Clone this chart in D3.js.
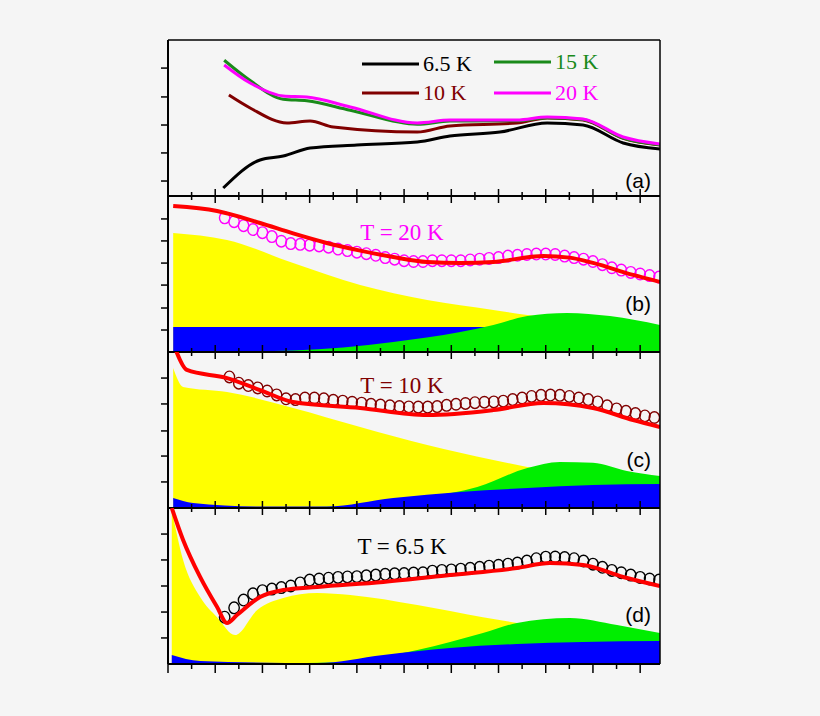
<!DOCTYPE html>
<html><head><meta charset="utf-8">
<script src="https://cdn.jsdelivr.net/npm/d3@7"></script>
<style>body{margin:0;background:#f5f5f5}</style>
</head><body>
<script>
// x in major-tick units, y in arbitrary panel units (0..10)
const xMajor = d3.range(0, 11);
const xMinor = d3.range(0.5, 10.5, 1);

// panel (a)
const aX = [1.17, 1.95, 2.44, 3.01, 4.0, 5.28, 5.97, 7.03, 8.03, 8.79, 9.64, 10.42];
const a65 = [0.51, 2.31, 2.56, 3.08, 3.27, 3.46, 3.85, 4.1, 4.68, 4.55, 3.40, 3.01];
const aXm = [1.19, 1.74, 2.44, 2.94, 3.86, 5.28, 5.97, 7.39, 8.03, 8.79, 9.64, 10.42];
const a20 = [8.4, 7.24, 6.41, 6.35, 5.71, 4.68, 4.87, 4.87, 5.06, 4.94, 3.78, 3.33];
const a15 = [8.7, 7.4, 6.2, 6.1, 5.5, 4.6, 4.8, 4.82, 5.02, 4.9, 3.72, 3.28];
const aXr = [1.29, 1.74, 2.52, 3.01, 3.5, 5.28, 5.97, 7.39, 8.03, 8.79, 9.64, 10.42];
const a10 = [6.47, 5.64, 4.68, 4.81, 4.42, 4.1, 4.49, 4.68, 5.0, 4.87, 3.7, 3.27];
const aTicks = [0.96, 2.76, 4.55, 6.35, 8.2];

// panel (b) T = 20 K
const bYelX = [0.11, 1.25, 2.65, 4.07, 5.49, 6.89, 7.61, 9.0, 10.42];
const bYel = [7.63, 7.18, 5.7, 4.29, 3.33, 2.69, 2.37, 1.9, 1.5];
const bBluX = [0.11, 10.42];
const bBlu = [1.6, 1.6];
const bGrnX = [0.11, 2.65, 4.77, 6.19, 6.89, 7.61, 8.45, 9.36, 10.42];
const bGrn = [0.0, 0.1, 0.64, 1.28, 1.73, 2.31, 2.5, 2.3, 1.73];
const bFitX = [0.11, 1.04, 1.95, 2.65, 3.36, 4.07, 4.77, 5.49, 6.19, 6.89, 7.95, 8.5, 9.0, 9.85, 10.42];
const bFit = [9.36, 9.04, 8.27, 7.6, 6.99, 6.5, 6.09, 5.77, 5.7, 5.77, 6.15, 6.05, 5.71, 4.94, 4.49];
const bObsX0 = 1.2;
const bObs = [8.6, 8.35, 8.1, 7.85, 7.65, 7.4, 7.1, 6.95, 6.9, 6.85, 6.8, 6.72, 6.6, 6.5, 6.4, 6.3, 6.2, 6.05, 5.95, 5.85,
  5.8, 5.8, 5.85, 5.85, 5.85, 5.85, 5.9, 5.95, 6.0, 6.05, 6.15, 6.2, 6.25, 6.28, 6.28, 6.25, 6.15, 6.05, 5.95, 5.8,
  5.6, 5.4, 5.25, 5.1, 5.0, 4.9, 4.8];
const bTicks = [1.41, 2.82, 4.29, 5.7, 7.12, 8.53];

// panel (c) T = 10 K
const cYelX = [0.11, 0.32, 1.25, 2.65, 4.07, 5.49, 6.89, 7.61, 9.0, 10.42];
const cYel = [8.97, 7.76, 7.44, 6.41, 5.19, 4.04, 3.08, 2.63, 2.0, 1.5];
const cGrnX = [0.11, 3.5, 5.49, 6.55, 7.61, 8.3, 9.0, 9.72, 10.42];
const cGrn = [0.0, 0.08, 0.7, 1.35, 2.56, 2.95, 2.9, 2.37, 2.05];
const cBluX = [0.11, 0.53, 1.95, 3.36, 4.77, 6.19, 7.61, 9.0, 10.42];
const cBlu = [0.64, 0.32, 0.1, 0.1, 0.64, 1.03, 1.28, 1.47, 1.54];
const cFitX = [0.02, 0.19, 0.4, 1.25, 1.95, 2.65, 4.07, 5.49, 6.89, 7.95, 9.0, 9.85, 10.42];
const cFit = [11.5, 9.94, 8.85, 8.33, 7.56, 6.79, 6.41, 5.96, 6.28, 6.73, 6.41, 5.64, 5.19];
const cObsX0 = 1.3;
const cObs = [8.4, 8.0, 7.85, 7.7, 7.5, 7.25, 7.0, 6.95, 7.05, 7.05, 7.0, 6.9, 6.85, 6.78, 6.72, 6.65, 6.6, 6.55, 6.5, 6.48,
  6.47, 6.47, 6.5, 6.58, 6.65, 6.7, 6.75, 6.78, 6.8, 6.85, 6.95, 7.05, 7.15, 7.22, 7.24, 7.22, 7.15, 7.05, 6.95, 6.8,
  6.55, 6.35, 6.2, 6.05, 5.9, 5.8];
const cTicks = [1.67, 3.33, 4.94, 6.67, 8.33];

// panel (d) T = 6.5 K
const dYelX = [0.08, 0.32, 0.68, 1.04, 1.42, 1.89, 2.44, 3.16, 3.86, 5.28, 6.67, 7.39, 8.79, 10.42];
const dYel = [9.87, 6.67, 4.3, 3.0, 1.86, 3.46, 4.23, 4.55, 4.42, 3.78, 3.0, 2.63, 1.8, 1.3];
const dGrnX = [0.08, 3.5, 5.28, 6.67, 7.39, 8.51, 9.51, 10.42];
const dGrn = [0.0, 0.1, 0.9, 1.98, 2.63, 2.95, 2.5, 1.98];
const dBluX = [0.08, 0.68, 3.16, 4.56, 5.97, 7.39, 8.79, 10.42];
const dBlu = [0.58, 0.2, 0.06, 0.58, 1.03, 1.28, 1.41, 1.47];
const dFitX = [0.08, 0.32, 0.68, 1.04, 1.25, 1.46, 1.95, 2.44, 3.16, 4.56, 5.97, 7.39, 8.09, 8.79, 9.64, 10.42];
const dFit = [10.0, 7.95, 5.58, 3.65, 2.63, 3.14, 4.3, 4.74, 4.94, 5.26, 5.7, 6.15, 6.47, 6.35, 5.58, 5.0];
const dObsX0 = 1.2;
const dObs = [3.0, 3.6, 4.1, 4.5, 4.7, 4.8, 4.9, 5.0, 5.2, 5.38, 5.45, 5.5, 5.55, 5.58, 5.6, 5.65, 5.7, 5.75, 5.78, 5.8,
  5.83, 5.85, 5.95, 6.0, 6.03, 6.08, 6.13, 6.2, 6.27, 6.33, 6.4, 6.47, 6.6, 6.75, 6.85, 6.86, 6.82, 6.75, 6.6, 6.4,
  6.2, 6.0, 5.85, 5.7, 5.55, 5.45, 5.38];
const dTicks = [1.67, 3.33, 5.0, 6.67, 8.33];

const zip = (xs, ys) => xs.map((x, i) => [x, ys[i]]);
const obs = (x0, ys) => ys.map((y, i) => [x0 + i * 0.2, y]);

const W = 820, H = 716;
const left = 168, right = 660;
const x = d3.scaleLinear().domain([0, 10.42]).range([left, right]);

const svg = d3.select('body').append('svg').attr('width', W).attr('height', H)
  .style('background', '#f5f5f5');

const panels = [
  { id: 'a', top: 40, bottom: 196, ticks: aTicks, tag: '(a)', tagY: 188 },
  { id: 'b', top: 196, bottom: 352, ticks: bTicks, tag: '(b)', tagY: 311,
    areas: [['#ffff00', zip(bYelX, bYel)], ['#0000ff', zip(bBluX, bBlu)], ['#00ee00', zip(bGrnX, bGrn)]],
    fit: zip(bFitX, bFit), obs: obs(bObsX0, bObs), col: '#ff00ff', label: 'T = 20 K', labelY: 240 },
  { id: 'c', top: 352, bottom: 508, ticks: cTicks, tag: '(c)', tagY: 467,
    areas: [['#ffff00', zip(cYelX, cYel)], ['#00ee00', zip(cGrnX, cGrn)], ['#0000ff', zip(cBluX, cBlu)]],
    fit: zip(cFitX, cFit), obs: obs(cObsX0, cObs), col: '#800000', label: 'T = 10 K', labelY: 393 },
  { id: 'd', top: 508, bottom: 664, ticks: dTicks, tag: '(d)', tagY: 622,
    areas: [['#ffff00', zip(dYelX, dYel)], ['#00ee00', zip(dGrnX, dGrn)], ['#0000ff', zip(dBluX, dBlu)]],
    fit: zip(dFitX, dFit), obs: obs(dObsX0, dObs), col: '#000000', label: 'T = 6.5 K', labelY: 554 },
];

panels.forEach(p => {
  const y = d3.scaleLinear().domain([0, 10]).range([p.bottom, p.top]);
  svg.append('clipPath').attr('id', 'clip' + p.id).append('rect')
    .attr('x', left).attr('y', p.top).attr('width', right - left).attr('height', p.bottom - p.top);
  const g = svg.append('g').attr('clip-path', `url(#clip${p.id})`);
  const line = d3.line().x(d => x(d[0])).y(d => y(d[1])).curve(d3.curveMonotoneX);
  const area = d3.area().x(d => x(d[0])).y0(p.bottom).y1(d => y(d[1])).curve(d3.curveMonotoneX);

  if (p.areas) {
    p.areas.forEach(([c, pts]) => g.append('path').attr('d', area(pts)).attr('fill', c));
    g.selectAll('ellipse.o').data(p.obs).enter().append('ellipse')
      .attr('cx', d => x(d[0])).attr('cy', d => y(d[1])).attr('rx', 5.2).attr('ry', 5.8)
      .attr('fill', 'none').attr('stroke', p.col).attr('stroke-width', 1.4);
    g.append('path').attr('d', line(p.fit)).attr('fill', 'none')
      .attr('stroke', '#ff0000').attr('stroke-width', 4);
    svg.append('text').text(p.label).attr('x', 402).attr('y', p.labelY)
      .attr('text-anchor', 'middle').attr('font-family', 'Liberation Serif, serif')
      .attr('font-size', 23).attr('fill', p.col);
  } else {
    const curves = [
      ['#000000', zip(aX, a65)], ['#800000', zip(aXr, a10)],
      ['#1a8a1a', zip(aXm, a15)], ['#ff00ff', zip(aXm, a20)]];
    curves.forEach(([c, pts]) => g.append('path').attr('d', line(pts)).attr('fill', 'none')
      .attr('stroke', c).attr('stroke-width', 3));
    const leg = [['#000000', '6.5 K', 362, 64], ['#1a8a1a', '15 K', 494, 62],
                 ['#800000', '10 K', 362, 93], ['#ff00ff', '20 K', 494, 93]];
    leg.forEach(([c, t, lx, ly]) => {
      svg.append('line').attr('x1', lx).attr('x2', lx + 57).attr('y1', ly).attr('y2', ly)
        .attr('stroke', c).attr('stroke-width', 3);
      svg.append('text').text(t).attr('x', lx + 61).attr('y', ly + 7)
        .attr('font-family', 'Liberation Serif, serif').attr('font-size', 22).attr('fill', c);
    });
    svg.append('line').attr('x1', left).attr('x2', right).attr('y1', p.top).attr('y2', p.top)
      .attr('stroke', '#000').attr('stroke-width', 1.5);
  }

  // frame
  svg.append('line').attr('x1', left).attr('x2', left).attr('y1', p.top).attr('y2', p.bottom)
    .attr('stroke', '#000').attr('stroke-width', 2);
  svg.append('line').attr('x1', right).attr('x2', right).attr('y1', p.top).attr('y2', p.bottom)
    .attr('stroke', '#000').attr('stroke-width', 1.5);
  svg.append('line').attr('x1', left).attr('x2', right).attr('y1', p.bottom).attr('y2', p.bottom)
    .attr('stroke', '#000').attr('stroke-width', 2);

  // y ticks
  svg.append('g').selectAll('line').data(p.ticks).enter().append('line')
    .attr('x1', left - 7).attr('x2', left).attr('y1', d => y(d)).attr('y2', d => y(d))
    .attr('stroke', '#000').attr('stroke-width', 1.5);

  // x ticks on panel bottom
  const last = p.id === 'd';
  const tg = svg.append('g');
  tg.selectAll('line.M').data(xMajor).enter().append('line')
    .attr('x1', d => x(d)).attr('x2', d => x(d))
    .attr('y1', last ? p.bottom : p.bottom - 7).attr('y2', p.bottom + (last ? 9 : 7))
    .attr('stroke', '#000').attr('stroke-width', 1.5);
  tg.selectAll('line.m').data(xMinor).enter().append('line')
    .attr('x1', d => x(d)).attr('x2', d => x(d))
    .attr('y1', last ? p.bottom : p.bottom - 4).attr('y2', p.bottom + (last ? 5 : 4))
    .attr('stroke', '#000').attr('stroke-width', 1.5);

  svg.append('text').text(p.tag).attr('x', 651).attr('y', p.tagY)
    .attr('text-anchor', 'end').attr('font-family', 'Liberation Sans, Arial, sans-serif')
    .attr('font-size', 21).attr('fill', '#000');
});
</script>
</body></html>
